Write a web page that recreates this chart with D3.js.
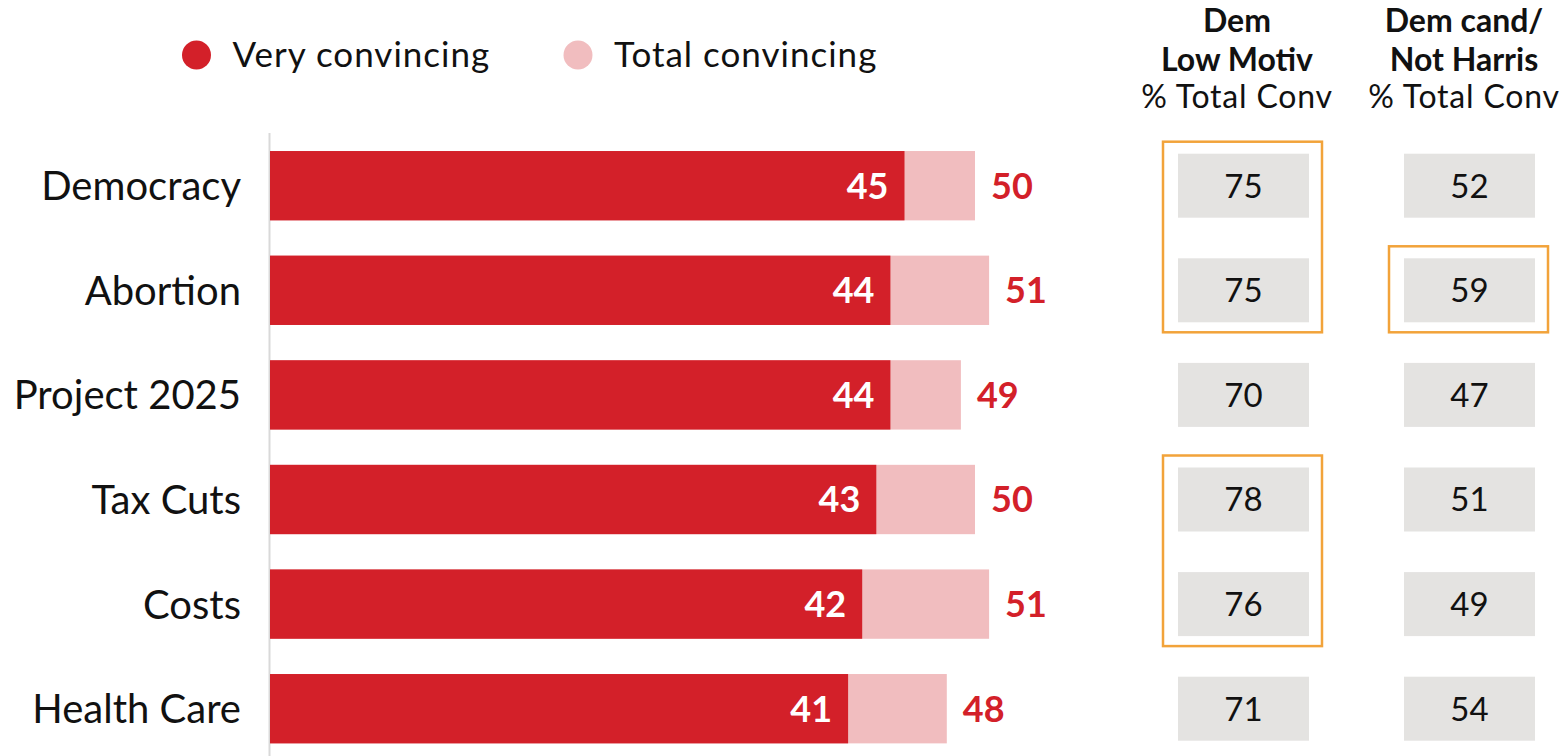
<!DOCTYPE html>
<html>
<head>
<meta charset="utf-8">
<script src="https://cdn.jsdelivr.net/npm/d3@7"></script>
<style>
  body { margin: 0; background: #fff; }
  svg { display: block; font-family: Lato, "Noto Sans", sans-serif; }
</style>
</head>
<body>
<div class="chart"></div>
<script>
var svgWidth = 1564;
var svgHeight = 756;

// data
var categories = ["Democracy", "Abortion", "Project 2025", "Tax Cuts", "Costs", "Health Care"];
var veryConvincing = [45, 44, 44, 43, 42, 41];
var totalConvincing = [50, 51, 49, 50, 51, 48];
var demLowMotiv = [75, 75, 70, 78, 76, 71];
var demCandNotHarris = [52, 59, 47, 51, 49, 54];
var columnHeaders = [["Dem", "Low Motiv"], ["Dem cand/", "Not Harris"]];
var columnSubHeader = "% Total Conv";
var legendLabels = ["Very convincing", "Total convincing"];
// highlighted groups: column index, first row, last row
var highlights = [[0, 0, 1], [0, 3, 4], [1, 1, 1]];

var red = "#d32029";
var pink = "#f1bdbf";
var boxGray = "#e4e3e1";
var orange = "#f2a33a";

var svg = d3.select(".chart")
  .append("svg")
  .attr("width", svgWidth)
  .attr("height", svgHeight);

var xScale = d3.scaleLinear()
  .domain([0, 50])
  .range([270, 975]);

var yScale = d3.scaleBand()
  .domain(categories)
  .range([133.4, 761])
  .paddingInner(0.337)
  .paddingOuter(0.1685);

var colScale = d3.scaleBand()
  .domain([0, 1])
  .range([1178, 1535])
  .paddingInner(0.4204)
  .paddingOuter(0);

var rows = categories.map(function(c, i) {
  return { cat: c, very: veryConvincing[i], total: totalConvincing[i], cols: [demLowMotiv[i], demCandNotHarris[i]] };
});

// legend
var legend = svg.append("g");
var legendX = [196.5, 578];
legendLabels.forEach(function(lbl, i) {
  legend.append("circle")
    .attr("cx", legendX[i])
    .attr("cy", 55)
    .attr("r", 14.5)
    .attr("fill", i === 0 ? red : pink);
  legend.append("text")
    .attr("x", legendX[i] + 36)
    .attr("y", 67)
    .attr("font-size", 35)
    .attr("letter-spacing", 1)
    .attr("fill", "#111")
    .text(lbl);
});

// axis line
svg.append("line")
  .attr("x1", 269.5).attr("x2", 269.5)
  .attr("y1", 133).attr("y2", svgHeight)
  .attr("stroke", "#d9d9d9")
  .attr("stroke-width", 2);

// category labels
svg.selectAll(".cat")
  .data(rows)
  .enter().append("text")
    .attr("class", "cat")
    .attr("x", 241)
    .attr("y", function(d) { return yScale(d.cat) + yScale.bandwidth() / 2; })
    .attr("dy", "0.36em")
    .attr("text-anchor", "end")
    .attr("font-size", 40)
    .attr("fill", "#111")
    .text(function(d) { return d.cat; });

// total bars (pink) behind very bars (red)
svg.selectAll(".total")
  .data(rows)
  .enter().append("rect")
    .attr("x", xScale(0))
    .attr("y", function(d) { return yScale(d.cat); })
    .attr("width", function(d) { return xScale(d.total) - xScale(0); })
    .attr("height", yScale.bandwidth())
    .attr("fill", pink);

svg.selectAll(".very")
  .data(rows)
  .enter().append("rect")
    .attr("x", xScale(0))
    .attr("y", function(d) { return yScale(d.cat); })
    .attr("width", function(d) { return xScale(d.very) - xScale(0); })
    .attr("height", yScale.bandwidth())
    .attr("fill", red);

svg.selectAll(".veryLabel")
  .data(rows)
  .enter().append("text")
    .attr("x", function(d) { return xScale(d.very) - 16; })
    .attr("y", function(d) { return yScale(d.cat) + yScale.bandwidth() / 2; })
    .attr("dy", "0.36em")
    .attr("text-anchor", "end")
    .attr("font-size", 36)
    .attr("font-weight", 700)
    .attr("fill", "#fff")
    .text(function(d) { return d.very; });

svg.selectAll(".totalLabel")
  .data(rows)
  .enter().append("text")
    .attr("x", function(d) { return xScale(d.total) + 16; })
    .attr("y", function(d) { return yScale(d.cat) + yScale.bandwidth() / 2; })
    .attr("dy", "0.36em")
    .attr("font-size", 36)
    .attr("font-weight", 700)
    .attr("fill", red)
    .text(function(d) { return d.total; });

// side columns
var boxH = 64;
var headerX = [1237, 1464];
columnHeaders.forEach(function(h, c) {
  var t = svg.append("text")
    .attr("text-anchor", "middle")
    .attr("font-size", 32)
    .attr("fill", "#111");
  t.append("tspan").attr("x", headerX[c]).attr("y", 32).attr("font-weight", 700).text(h[0]);
  t.append("tspan").attr("x", headerX[c]).attr("y", 71).attr("font-weight", 700).text(h[1]);
  t.append("tspan").attr("x", headerX[c]).attr("y", 108).attr("letter-spacing", 0.8).text(columnSubHeader);

  var g = svg.append("g");
  g.selectAll("rect")
    .data(rows)
    .enter().append("rect")
      .attr("x", colScale(c))
      .attr("y", function(d) { return yScale(d.cat) + yScale.bandwidth() / 2 - boxH / 2; })
      .attr("width", colScale.bandwidth())
      .attr("height", boxH)
      .attr("fill", boxGray);
  g.selectAll("text")
    .data(rows)
    .enter().append("text")
      .attr("x", colScale(c) + colScale.bandwidth() / 2)
      .attr("y", function(d) { return yScale(d.cat) + yScale.bandwidth() / 2; })
      .attr("dy", "0.36em")
      .attr("text-anchor", "middle")
      .attr("font-size", 33)
      .attr("fill", "#111")
      .text(function(d) { return d.cols[c]; });
});

// orange highlight frames
svg.selectAll(".hl")
  .data(highlights)
  .enter().append("rect")
    .attr("x", function(d) { return colScale(d[0]) - 15; })
    .attr("y", function(d) { return yScale(categories[d[1]]) + yScale.bandwidth() / 2 - boxH / 2 - 12; })
    .attr("width", colScale.bandwidth() + 28)
    .attr("height", function(d) {
      return yScale(categories[d[2]]) - yScale(categories[d[1]]) + boxH + 22;
    })
    .attr("fill", "none")
    .attr("stroke", orange)
    .attr("stroke-width", 2.5);
</script>
</body>
</html>
